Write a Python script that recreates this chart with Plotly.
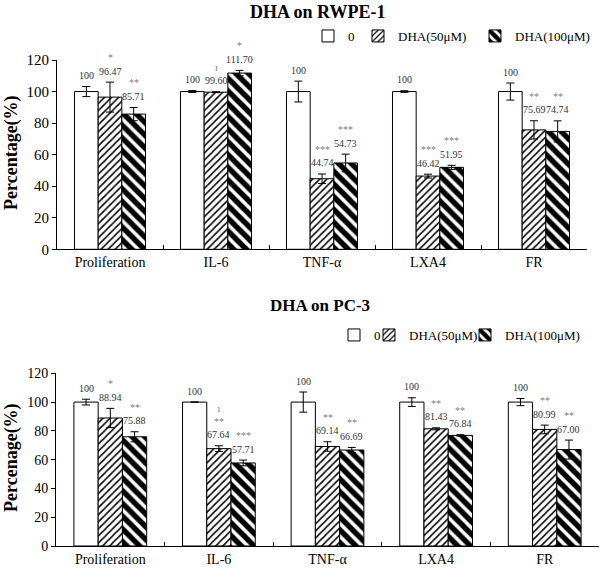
import plotly.graph_objects as go

# ---------------- data ----------------
categories = ["Proliferation", "IL-6", "TNF-α", "LXA4", "FR"]
series_names = ["0", "DHA(50μM)", "DHA(100μM)"]

# DHA on RWPE-1
rwpe_ctrl = [100, 100, 100, 100, 100]
rwpe_50 = [96.47, 99.60, 44.74, 46.42, 75.69]
rwpe_100 = [85.71, 111.70, 54.73, 51.95, 74.74]
rwpe_ctrl_err = [3.2, 0.6, 6.6, 0.5, 5.4]
rwpe_50_err = [9.5, 0.3, 3.0, 1.2, 5.8]
rwpe_100_err = [4.2, 1.7, 5.6, 1.3, 6.7]
rwpe_ctrl_sig = ["", "", "", "", ""]
rwpe_50_sig = ["*", "ı", "***", "***", "**"]
rwpe_100_sig = ["**", "*", "***", "***", "**"]

# DHA on PC-3
pc3_ctrl = [100, 100, 100, 100, 100]
pc3_50 = [88.94, 67.64, 69.14, 81.43, 80.99]
pc3_100 = [75.88, 57.71, 66.69, 76.84, 67.00]
pc3_ctrl_err = [2.0, 0.0, 7.0, 3.0, 2.5]
pc3_50_err = [6.7, 2.0, 3.3, 0.7, 3.0]
pc3_100_err = [3.5, 2.0, 1.8, 0.5, 6.6]
pc3_ctrl_sig = ["", "", "", "", ""]
pc3_50_sig = ["*", "ı<br>**", "**", "**", "**"]
pc3_100_sig = ["**", "***", "**", "**", "**"]

y_ticks = [0, 20, 40, 60, 80, 100, 120]

# ---------------- styling ----------------
W, H = 600, 571
FONT = "Liberation Serif"
BARGAP = 0.33

patterns = [
    dict(shape="", fgcolor="black", bgcolor="white"),
    dict(shape="/", fgcolor="black", bgcolor="white", fgopacity=1,
         fillmode="replace", size=5, solidity=0.3),
    dict(shape="\\", fgcolor="black", bgcolor="white", fgopacity=1,
         fillmode="replace", size=9, solidity=0.6),
]

fig = go.Figure()

panels = [
    dict(xa="x", ya="y",
         vals=[rwpe_ctrl, rwpe_50, rwpe_100],
         errs=[rwpe_ctrl_err, rwpe_50_err, rwpe_100_err],
         sigs=[rwpe_ctrl_sig, rwpe_50_sig, rwpe_100_sig],
         legends=["legend", "legend2", "legend3"]),
    dict(xa="x2", ya="y2",
         vals=[pc3_ctrl, pc3_50, pc3_100],
         errs=[pc3_ctrl_err, pc3_50_err, pc3_100_err],
         sigs=[pc3_ctrl_sig, pc3_50_sig, pc3_100_sig],
         legends=["legend4", "legend5", "legend6"]),
]

annotations = []
bw = (1 - BARGAP) / 3
for p in panels:
    for j in range(3):
        fig.add_trace(go.Bar(
            x=categories, y=p["vals"][j], name=series_names[j],
            xaxis=p["xa"], yaxis=p["ya"], legend=p["legends"][j],
            marker=dict(color="white", line=dict(color="black", width=1),
                        pattern=patterns[j]),
            error_y=dict(type="data", array=p["errs"][j], color="black",
                         thickness=1, width=4),
        ))
        for i, v in enumerate(p["vals"][j]):
            xpos = i + (j - 1) * bw
            top = v + p["errs"][j][i]
            label = "100" if v == 100 else f"{v:.2f}"
            annotations.append(dict(
                x=xpos, y=top, xref=p["xa"], yref=p["ya"], text=label,
                showarrow=False, yanchor="middle", yshift=11,
                font=dict(family=FONT, size=10, color="#333333")))
            s = p["sigs"][j][i]
            if s:
                annotations.append(dict(
                    x=xpos, y=top, xref=p["xa"], yref=p["ya"], text=s,
                    showarrow=False, yanchor="bottom", yshift=17,
                    font=dict(family=FONT, size=10, color="#808080")))

# titles
annotations += [
    dict(x=317 / W, y=1 - 12 / H, xref="paper", yref="paper", text="DHA on RWPE-1",
         showarrow=False, xanchor="center", yanchor="middle",
         font=dict(family=FONT, size=18, color="black", weight="bold")),
    dict(x=320 / W, y=1 - 305 / H, xref="paper", yref="paper", text="DHA on PC-3",
         showarrow=False, xanchor="center", yanchor="middle",
         font=dict(family=FONT, size=17, color="black", weight="bold")),
    dict(x=11 / W, y=1 - 153 / H, xref="paper", yref="paper", text="Percentage(%)",
         showarrow=False, textangle=-90, xanchor="center", yanchor="middle",
         font=dict(family=FONT, size=18, color="black", weight="bold")),
    dict(x=11 / W, y=1 - 458 / H, xref="paper", yref="paper", text="Percenage(%)",
         showarrow=False, textangle=-90, xanchor="center", yanchor="middle",
         font=dict(family=FONT, size=18, color="black", weight="bold")),
]

xcommon = dict(type="category", showline=True, linecolor="black", linewidth=1,
               ticks="inside", tickson="boundaries", ticklen=4, tickcolor="black",
               showgrid=False, zeroline=False, fixedrange=True,
               tickfont=dict(family=FONT, size=14, color="black"))
ycommon = dict(range=[0, 120], tickvals=y_ticks, showline=True, linecolor="black",
               linewidth=1, ticks="outside", ticklen=4, tickcolor="black",
               showgrid=False, zeroline=False, fixedrange=True)

def legend_at(text_x, text_y):
    return dict(x=(text_x - 40) / W, y=1 - text_y / H, xanchor="left", yanchor="middle",
                orientation="h", bgcolor="rgba(0,0,0,0)", borderwidth=0,
                itemwidth=30, font=dict(family=FONT, size=13, color="black"))

fig.update_layout(
    width=W, height=H,
    margin=dict(l=0, r=0, t=0, b=0, autoexpand=False),
    paper_bgcolor="white", plot_bgcolor="white",
    barmode="group", bargap=BARGAP, bargroupgap=0,
    font=dict(family=FONT, color="black"),
    xaxis=dict(domain=[57 / W, 587 / W], anchor="y", **xcommon),
    yaxis=dict(domain=[1 - 249.3 / H, 1 - 60 / H], anchor="x",
               tickfont=dict(family=FONT, size=15, color="black"), **ycommon),
    xaxis2=dict(domain=[56 / W, 599 / W], anchor="y2", **xcommon),
    yaxis2=dict(domain=[1 - 546 / H, 1 - 373.3 / H], anchor="x2",
                tickfont=dict(family=FONT, size=14, color="black"), **ycommon),
    legend=legend_at(348, 36),
    legend2=legend_at(398, 36),
    legend3=legend_at(515, 36),
    legend4=legend_at(374, 335),
    legend5=legend_at(409, 335),
    legend6=legend_at(505, 335),
    annotations=annotations,
    showlegend=True,
)

fig.write_html("out.html", config={"displayModeBar": False},
               post_script="document.body.style.margin='0';")
